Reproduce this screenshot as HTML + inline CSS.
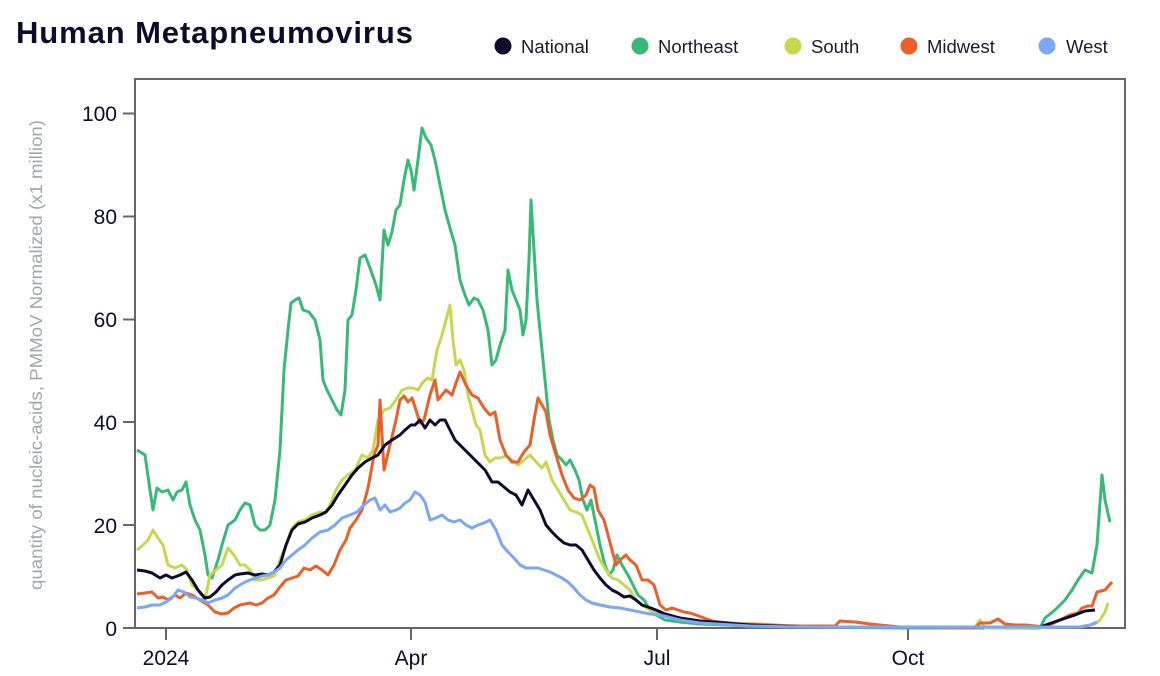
<!DOCTYPE html>
<html><head><style>
body{margin:0;background:#fff;}
svg{display:block;font-family:"Liberation Sans",sans-serif;}
</style></head><body>
<svg width="1160" height="676" viewBox="0 0 1160 676">
<text x="16" y="43" font-size="31" font-weight="bold" fill="#0d0c2b" letter-spacing="0.9">Human Metapneumovirus</text>
<g font-size="18.5" fill="#1a1a2e">
<circle cx="503" cy="46" r="8.5" fill="#0d0c2b"/><text x="521" y="53">National</text>
<circle cx="640" cy="46" r="8.5" fill="#38b978"/><text x="658" y="53">Northeast</text>
<circle cx="793" cy="46" r="8.5" fill="#c8d84e"/><text x="811" y="53">South</text>
<circle cx="909" cy="46" r="8.5" fill="#ea5f2a"/><text x="927" y="53">Midwest</text>
<circle cx="1047" cy="46" r="8.5" fill="#7ca7f7"/><text x="1066" y="53">West</text>
</g>
<rect x="135" y="79" width="990" height="549" fill="none" stroke="#666" stroke-width="2"/>
<g stroke="#666" stroke-width="2">
<line x1="123" y1="113.5" x2="135" y2="113.5"/><line x1="123" y1="216.5" x2="135" y2="216.5"/><line x1="123" y1="319.5" x2="135" y2="319.5"/><line x1="123" y1="422" x2="135" y2="422"/><line x1="123" y1="525" x2="135" y2="525"/><line x1="123" y1="628" x2="135" y2="628"/>
<line x1="166" y1="628" x2="166" y2="640"/><line x1="411" y1="628" x2="411" y2="640"/><line x1="657" y1="628" x2="657" y2="640"/><line x1="908" y1="628" x2="908" y2="640"/>
</g>
<g font-size="21" fill="#0d0c2b" text-anchor="end">
<text x="117" y="121">100</text><text x="117" y="224">80</text><text x="117" y="327">60</text><text x="117" y="430">40</text><text x="117" y="533">20</text><text x="117" y="636">0</text>
</g>
<g font-size="21" fill="#0d0c2b" text-anchor="middle">
<text x="166" y="665">2024</text><text x="411" y="665">Apr</text><text x="657" y="665">Jul</text><text x="908" y="665">Oct</text>
</g>
<text transform="translate(42,355) rotate(-90)" font-size="17.5" fill="#a3a6b2" text-anchor="middle" textLength="470" lengthAdjust="spacingAndGlyphs">quantity of nucleic-acids, PMMoV Normalized (x1 million)</text>
<g fill="none" stroke-width="3" stroke-linejoin="round">
<polyline stroke="#38b978" points="137,450 145,455 150,490 153,510 157,488 162,492 168,490 173,500 177,492 182,490 186,482 190,505 195,520 200,530 205,555 208,575 212,578 218,560 222,545 228,525 235,520 240,510 245,503 250,505 255,525 260,530 265,530 270,525 275,500 280,450 284,370 288,330 291,303 295,300 299,298 303,310 309,312 315,320 320,340 323,380 327,390 332,400 337,410 341,415 345,390 348,320 352,315 356,290 360,258 365,255 370,268 376,285 380,300 384,230 388,245 392,232 396,210 400,205 404,180 408,160 411,170 414,190 418,160 422,128 426,138 431,145 435,160 440,185 445,210 450,228 455,245 460,280 465,295 469,305 474,298 478,300 483,310 488,330 492,365 496,360 500,345 505,330 508,270 512,290 516,300 520,310 523,335 526,320 529,260 531,200 534,250 537,300 541,340 545,380 549,420 553,440 557,455 562,460 566,465 570,460 575,470 579,480 583,500 587,510 591,500 596,525 600,545 605,565 609,575 613,570 617,555 622,565 628,575 633,585 638,595 644,600 650,610 656,615 665,620 680,622 700,624 750,626 800,627 900,628 1040,628 1045,618 1055,610 1065,600 1072,590 1078,580 1085,570 1092,573 1097,545 1102,475 1105,500 1110,522"/>
<polyline stroke="#c8d84e" points="137,550 143,545 148,540 153,530 158,538 163,545 168,565 175,568 182,565 187,570 192,585 198,590 205,600 210,575 216,570 222,565 228,548 234,555 240,565 245,565 250,570 255,580 262,580 268,578 274,576 280,560 286,545 292,528 298,522 305,520 312,515 320,512 325,513 330,505 336,490 342,480 348,475 355,470 362,455 368,458 373,450 378,420 384,410 390,408 396,400 402,390 408,388 413,388 418,390 423,382 428,378 432,380 437,350 442,335 446,320 450,305 453,340 456,365 460,360 464,370 468,395 472,410 476,425 480,430 485,455 490,462 495,458 500,458 506,456 512,460 518,465 524,460 530,455 536,462 542,468 546,462 552,480 558,490 564,500 570,510 576,512 582,515 588,530 594,545 600,560 606,570 612,578 618,580 624,585 630,590 636,600 642,605 650,610 660,615 680,618 700,622 760,624 800,627 975,627 980,620 985,628 1080,627 1095,624 1100,620 1105,612 1108,603"/>
<polyline stroke="#ea5f2a" points="137,594 145,593 152,592 158,598 163,597 168,600 175,595 180,598 186,593 192,595 200,600 208,605 215,612 222,614 228,613 234,608 240,605 245,604 250,603 256,605 262,603 268,598 274,595 280,587 286,580 292,578 298,576 304,568 310,570 316,566 322,570 328,575 334,565 340,550 346,540 350,528 356,520 362,510 368,488 374,455 378,445 380,400 384,470 390,445 396,420 400,400 404,396 408,402 412,398 416,410 420,423 424,420 430,395 435,380 438,400 442,395 446,390 452,395 456,383 460,372 466,385 472,395 478,398 484,408 490,415 495,412 500,440 506,455 512,462 518,462 524,452 530,445 534,420 538,398 542,405 546,412 550,435 556,455 562,475 568,490 574,498 580,500 586,495 590,485 594,488 598,510 604,520 608,535 612,550 616,565 620,560 626,555 630,560 636,565 642,580 648,580 654,585 660,605 666,610 672,608 678,610 684,612 690,613 696,615 704,618 712,621 720,622 740,624 800,626 835,626 840,621 855,622 870,624 900,627 975,628 980,623 990,623 998,619 1005,624 1015,625 1025,625 1045,627 1060,620 1070,615 1078,613 1082,608 1088,606 1092,606 1097,592 1105,590 1112,582"/>
<polyline stroke="#0d0c2b" points="137,570 145,571 152,573 160,578 166,575 172,578 180,575 186,572 192,580 198,590 205,598 210,597 216,592 222,585 228,580 235,575 240,574 248,573 255,575 262,574 268,575 274,572 280,565 286,545 292,530 298,524 305,522 312,518 320,515 326,512 332,505 338,495 345,485 352,475 358,468 365,462 372,458 378,455 385,445 392,440 400,435 405,430 411,425 415,425 420,420 425,428 430,420 435,425 440,420 445,420 450,430 455,440 460,445 465,450 470,455 475,460 480,465 485,470 492,482 498,482 504,487 510,492 516,495 522,505 528,490 534,500 540,510 546,525 552,532 558,538 564,543 570,545 576,545 582,550 588,560 594,570 600,578 606,585 612,590 618,593 624,597 630,596 636,600 642,605 648,607 656,610 665,614 680,618 700,621 750,625 800,627 1040,627 1060,620 1075,615 1085,611 1095,610"/>
<polyline stroke="#7ca7f7" points="137,608 145,607 152,605 160,605 166,602 172,598 178,590 184,592 190,597 196,598 202,600 208,603 215,600 222,598 228,595 235,588 240,585 245,582 250,580 256,578 262,576 268,575 274,572 280,568 286,560 292,555 298,550 305,545 312,538 320,532 328,530 335,525 342,518 350,515 357,512 364,505 370,500 375,498 380,510 385,505 390,512 396,510 400,508 405,503 410,500 415,492 420,495 425,502 430,520 436,518 442,515 448,520 454,522 460,520 466,525 472,528 478,525 484,523 490,520 496,530 502,545 508,552 514,558 520,565 526,568 532,568 538,568 544,570 550,572 556,575 562,578 568,582 574,588 580,595 586,600 592,603 600,605 610,607 620,608 630,610 640,612 650,614 660,615 680,620 700,623 750,626 800,627 1080,627 1090,625 1097,622"/>
</g>
</svg>
</body></html>
